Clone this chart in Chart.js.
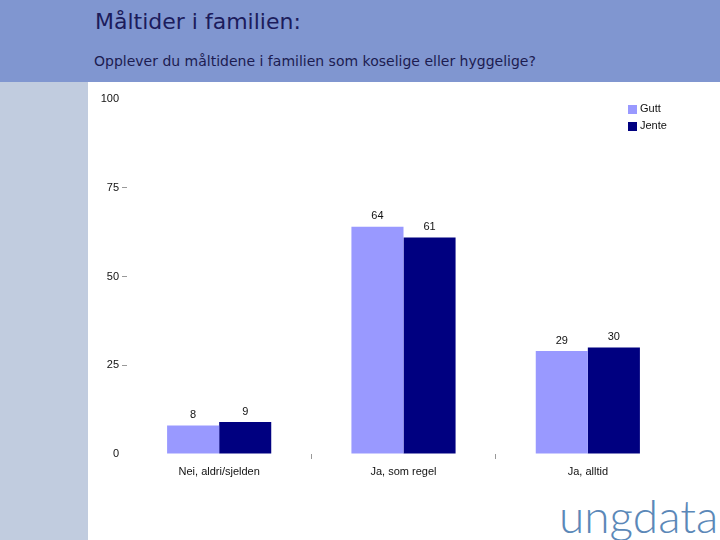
<!DOCTYPE html>
<html>
<head>
<meta charset="utf-8">
<script src="https://cdn.jsdelivr.net/npm/chart.js@4"></script>
<style>
  html, body { margin: 0; padding: 0; }
  body { width: 720px; height: 540px; position: relative; overflow: hidden; background: #fff; }
  .topp { position: absolute; left: 0; top: 0; width: 720px; height: 82px; background: #8096d0; }
  .side { position: absolute; left: 0; top: 82px; width: 88px; height: 458px; background: #c1ccdf; }
  .tittel { position: absolute; left: 95px; top: 9px; font: 22px "DejaVu Sans", sans-serif; color: #1c1c5c; white-space: nowrap; }
  .under { position: absolute; left: 94px; top: 53px; font: 14px "DejaVu Sans", sans-serif; color: #1c1c50; white-space: nowrap; }
  .logo { position: absolute; left: 559px; top: 488px; font: 300 46px Lato, sans-serif; color: #5b88b8; white-space: nowrap; letter-spacing: 0px; }
  #wrap { position: absolute; left: 0; top: 0; width: 720px; height: 540px; }
</style>
</head>
<body>
<div class="topp"></div>
<div class="side"></div>
<div class="tittel">Måltider i familien:</div>
<div class="under">Opplever du måltidene i familien som koselige eller hyggelige?</div>
<div class="logo">ungdata</div>
<div id="wrap"><canvas id="chart" width="720" height="540"></canvas></div>

<script>
/* =============================
   DATA
============================= */

const kategorier = ["Nei, aldri/sjelden", "Ja, som regel", "Ja, alltid"];
const gutt = [8, 64, 29];
const jente = [9, 61, 30];
const yTicks = [0, 25, 50, 75, 100];

/* =============================
   PLUGIN – TALL OVER SØYLER + LEGENDE
============================= */

const verdiPlugin = {
    id: "verdier",
    afterDatasetsDraw(chart) {
        const ctx = chart.ctx;
        ctx.save();
        ctx.font = "11px 'Liberation Sans', Arial, sans-serif";
        ctx.fillStyle = "#111";
        ctx.textAlign = "center";
        ctx.textBaseline = "bottom";
        chart.data.datasets.forEach((ds, i) => {
            chart.getDatasetMeta(i).data.forEach((bar, j) => {
                ctx.fillText(ds.data[j], bar.x, bar.y - 5);
            });
        });

        // legende oppe til høyre
        ctx.textAlign = "left";
        ctx.textBaseline = "middle";
        chart.data.datasets.forEach((ds, i) => {
            const y = 109 + i * 17;
            ctx.fillStyle = ds.backgroundColor;
            ctx.fillRect(628, y - 4, 9, 9);
            ctx.fillStyle = "#111";
            ctx.fillText(ds.label, 640, y);
        });
        ctx.restore();
    }
};

/* =============================
   SØYLEDIAGRAM
============================= */

new Chart(document.getElementById("chart"), {
    type: "bar",
    data: {
        labels: kategorier,
        datasets: [
            { label: "Gutt", data: gutt, backgroundColor: "#9999ff" },
            { label: "Jente", data: jente, backgroundColor: "#000080" }
        ]
    },
    options: {
        responsive: false,
        animation: false,
        layout: { padding: { left: 87, top: 99, right: 40, bottom: 56 } },
        plugins: { legend: { display: false }, tooltip: { enabled: false } },
        datasets: { bar: { categoryPercentage: 0.565, barPercentage: 1 } },
        scales: {
            x: {
                afterFit: s => { s.height = 30; },
                border: { display: false },
                grid: {
                    drawOnChartArea: false,
                    tickLength: 5,
                    color: c => (c.type !== "tick" || c.index === 0) ? "rgba(0,0,0,0)" : "#999"
                },
                ticks: {
                    padding: 6,
                    color: "#111",
                    font: { family: "'Liberation Sans', Arial, sans-serif", size: 11 }
                }
            },
            y: {
                min: 0,
                max: 100,
                afterFit: s => { s.width = 40; },
                afterBuildTicks: s => { s.ticks = yTicks.map(v => ({ value: v })); },
                border: { display: false },
                grid: {
                    drawOnChartArea: false,
                    tickLength: 5,
                    color: c => (c.tick && (c.tick.value === 0 || c.tick.value === 100)) ? "rgba(0,0,0,0)" : "#999"
                },
                ticks: {
                    padding: 3,
                    color: "#111",
                    font: { family: "'Liberation Sans', Arial, sans-serif", size: 11 }
                }
            }
        }
    },
    plugins: [verdiPlugin]
});
</script>
</body>
</html>
